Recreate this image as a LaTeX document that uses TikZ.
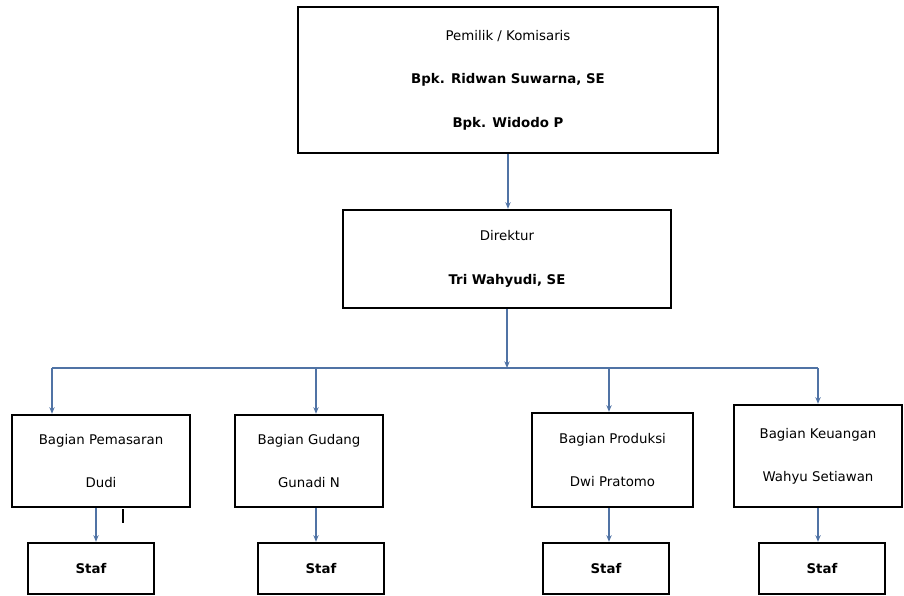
\documentclass[tikz,border=0pt]{standalone}
\usepackage{fontspec}
\setmainfont{DejaVu Sans}
\usetikzlibrary{arrows.meta}
\definecolor{linkblue}{RGB}{80,115,165}
\begin{document}
\begin{tikzpicture}[x=0.75pt,y=-0.75pt,
	box/.style={draw,line width=1.8pt,align=center,inner sep=0pt,
		font=\fontsize{10}{32.5}\selectfont},
	stafbox/.style={box,minimum width=94.5pt,minimum height=38.25pt},
	link/.style={draw=linkblue,line width=0.9pt,-{Stealth[length=5pt,width=4pt]}}]
\useasboundingbox (0,0) rectangle (904,596);

\node[box,minimum width=315pt,minimum height=109.5pt] (pemilik) at (508,80)
	{Pemilik / Komisaris\\ \textbf{Bpk. Ridwan Suwarna, SE}\\ \textbf{Bpk. Widodo P}};
\node[box,minimum width=246pt,minimum height=73.5pt] (direktur) at (507,259)
	{Direktur\\ \textbf{Tri Wahyudi, SE}};

\node[box,minimum width=133.5pt,minimum height=69pt] (pemasaran) at (101,461)
	{Bagian Pemasaran\\ Dudi};
\node[box,minimum width=111pt,minimum height=69pt] (gudang) at (309,461)
	{Bagian Gudang\\ Gunadi N};
\node[box,minimum width=120.75pt,minimum height=70.5pt] (produksi) at (612.5,460)
	{Bagian Produksi\\ Dwi Pratomo};
\node[box,minimum width=126pt,minimum height=76.5pt] (keuangan) at (818,456)
	{Bagian Keuangan\\ Wahyu Setiawan};

\node[stafbox] (staf1) at (91,568.5) {\textbf{Staf}};
\node[stafbox] (staf2) at (321,568.5) {\textbf{Staf}};
\node[stafbox] (staf3) at (606,568.5) {\textbf{Staf}};
\node[stafbox] (staf4) at (822,568.5) {\textbf{Staf}};

\coordinate (hub) at (507,368);
\coordinate (c1) at (52,368);
\coordinate (c2) at (316,368);
\coordinate (c3) at (609,368);
\coordinate (c4) at (818,368);
\coordinate (d1) at (96,0 |- pemasaran.south);
\coordinate (d2) at (316,0 |- gudang.south);
\coordinate (d3) at (609,0 |- produksi.south);
\coordinate (d4) at (818,0 |- keuangan.south);

\draw[link] (pemilik.south) -- (pemilik.south |- direktur.north);
\draw[link] (direktur.south) -- (hub);
\draw[linkblue,line width=0.9pt] (c1) -- (c4);
\draw[link] (c1) -- (c1 |- pemasaran.north);
\draw[link] (c2) -- (c2 |- gudang.north);
\draw[link] (c3) -- (c3 |- produksi.north);
\draw[link] (c4) -- (c4 |- keuangan.north);
\draw[link] (d1) -- (d1 |- staf1.north);
\draw[link] (d2) -- (d2 |- staf2.north);
\draw[link] (d3) -- (d3 |- staf3.north);
\draw[link] (d4) -- (d4 |- staf4.north);

\draw[line width=2pt] (123,509) -- (123,523);
\end{tikzpicture}
\end{document}
